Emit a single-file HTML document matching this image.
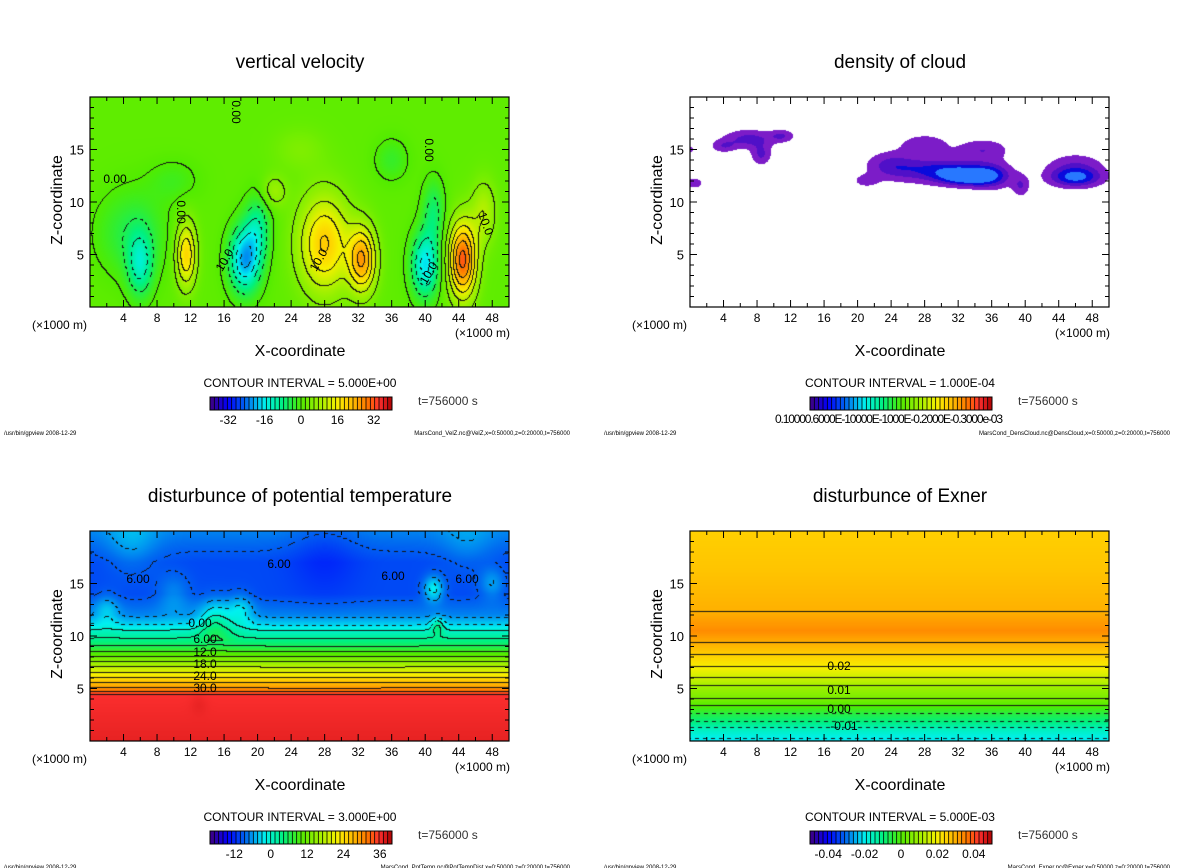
<!DOCTYPE html>
<html><head><meta charset="utf-8">
<style>
html,body{margin:0;padding:0;background:#fff;width:1200px;height:868px;overflow:hidden;position:relative;font-family:"Liberation Sans","DejaVu Sans",sans-serif;}
canvas{position:absolute;}
#ov{position:absolute;left:0;top:0;}
</style></head>
<body>
<canvas id="c0" width="419" height="210" style="left:90px;top:97px"></canvas>
<canvas id="c1" width="419" height="210" style="left:690px;top:97px"></canvas>
<canvas id="c2" width="419" height="210" style="left:90px;top:531px"></canvas>
<canvas id="c3" width="419" height="210" style="left:690px;top:531px"></canvas>
<svg id="ov" width="1200" height="868" xmlns="http://www.w3.org/2000/svg"></svg>
<script>
// ---- data ----
const xTicks = [4,8,12,16,20,24,28,32,36,40,44,48];
const zTicks = [5,10,15];
const titles = ["vertical velocity","density of cloud","disturbunce of potential temperature","disturbunce of Exner"];
const intervals = ["5.000E+00","1.000E-04","3.000E+00","5.000E-03"];
const barLabels0 = ["-32","-16","0","16","32"];
const barValues0 = [-32,-16,0,16,32];
const barLabels2 = ["-12","0","12","24","36"];
const barValues2 = [-12,0,12,24,36];
const barLabels3 = ["-0.04","-0.02","0","0.02","0.04"];
const barValues3 = [-0.04,-0.02,0,0.02,0.04];
const footers = ["MarsCond_VelZ.nc@VelZ,x=0:50000,z=0:20000,t=756000","MarsCond_DensCloud.nc@DensCloud,x=0:50000,z=0:20000,t=756000","MarsCond_PotTemp.nc@PotTempDist,x=0:50000,z=0:20000,t=756000","MarsCond_Exner.nc@Exner,x=0:50000,z=0:20000,t=756000"];

// vertical velocity blobs
const velX  = [6, 5, 11.5, 18.5, 20, 28, 32.5, 40, 41, 44.5, 22, 36, 10, 25, 47];
const velZ  = [4, 7, 5, 4.5, 7.5, 6, 4.5, 4, 9, 4.5, 11, 14, 12, 15, 9];
const velSX = [1.5, 4, 1.2, 1.8, 1.5, 3, 1.6, 1.6, 1.3, 1.6, 1.5, 2, 3, 3, 1.5];
const velSZ = [3, 4, 3, 3, 3, 4.5, 3, 3, 3, 3.5, 1.5, 2, 2, 2, 3];
const velA  = [-12, -6, 18, -22, -10, 19, 23, -18, -8, 30, 6, -4, -3, 3, 8];

// cloud blobs
const clX  = [7, 11, 4, 8.5, 0.5, 0, 24, 30, 33, 36, 28, 35, 39.5, 21, 46, 46];
const clZ  = [16, 16.3, 15.3, 14.5, 11.8, 15, 13.5, 13, 12.4, 12.5, 15.5, 15, 11.5, 12, 13, 12.3];
const clSX = [3, 1.5, 1.5, 1.2, 1, 0.6, 3, 5, 3, 2.5, 3, 3, 1, 1.5, 3.5, 3];
const clSZ = [0.9, 0.6, 0.6, 1, 0.5, 0.4, 1.3, 1.2, 0.8, 1.2, 1, 1, 1, 0.6, 1.5, 0.8];
const clA  = [1, 0.8, 0.7, 0.9, 0.8, 0.6, 0.9, 1.4, 1.7, 1.2, 0.7, 0.8, 0.8, 0.6, 1.0, 1.1];

// potential temperature profile + perturbations
const ptZ = [0, 4.4, 5, 6, 7, 8, 9, 10, 10.5, 11, 12, 14, 17, 20];
const ptV = [37, 36, 30, 24, 18, 12, 6, 2, 0, -3, -7, -10, -10, -7];
const ptPX = [15, 18, 41, 41.5, 2, 5, 48, 45, 10, 28, 13];
const ptPZ = [11.5, 12.5, 14.5, 11, 12.5, 19, 15, 19, 14, 18, 3.5];
const ptPS = [2, 1.5, 1.2, 0.8, 1.5, 3, 1.5, 3, 2, 4, 1];
const ptPA = [7, 5, 8, 6, 4, 3, 4, 2, 3, -2, 2];

// exner profile
const exZ = [0, 1.2, 1.8, 2.6, 3.3, 4, 5.2, 6, 7, 9.3, 10.5, 12.3, 16, 20];
const exV = [-0.021, -0.015, -0.01, -0.005, 0, 0.005, 0.01, 0.015, 0.02, 0.03, 0.034, 0.03, 0.027, 0.025];

// ---- colour ----
const stops = [[0,[64,0,128]],[0.1,[0,0,255]],[0.2,[0,110,240]],[0.3,[0,240,240]],[0.4,[0,240,128]],[0.5,[80,236,0]],[0.6,[160,240,0]],[0.7,[248,240,0]],[0.75,[255,208,0]],[0.8,[255,176,0]],[0.87,[255,112,0]],[0.93,[255,48,48]],[1,[170,0,0]]];
function cmap(t){t=Math.max(0,Math.min(1,t));for(let i=1;i<stops.length;i++){if(t<=stops[i][0]){const a=stops[i-1],b=stops[i];const f=(t-a[0])/(b[0]-a[0]);return [0,1,2].map(k=>Math.round(a[1][k]+(b[1][k]-a[1][k])*f));}}return stops[stops.length-1][1];}
function interp(zs,vs,z){if(z<=zs[0])return vs[0];for(let i=1;i<zs.length;i++){if(z<=zs[i]){const f=(z-zs[i-1])/(zs[i]-zs[i-1]);return vs[i-1]+(vs[i]-vs[i-1])*f;}}return vs[vs.length-1];}
function blobs(X,Z,SX,SZ,A,x,z){let s=0;for(let i=0;i<X.length;i++){const dx=(x-X[i])/SX[i],dz=(z-Z[i])/SZ[i];s+=A[i]*Math.exp(-(dx*dx+dz*dz));}return s;}

const W=419,H=210;
function xs(v){return v/50*W;} function zs(v){return H-v/20*H;}
function render(id,f,col,step,lines,dash){
  const cv=document.getElementById(id),ctx=cv.getContext('2d'),img=ctx.createImageData(W,H);
  const val=new Float32Array(W*H);
  for(let py=0;py<H;py++)for(let px=0;px<W;px++){val[py*W+px]=f((px+0.5)/W*50,(H-py-0.5)/H*20);}
  for(let py=0;py<H;py++)for(let px=0;px<W;px++){
    const i=py*W+px,v=val[i];let c=col(v);
    if(lines&&c){const L=Math.floor(v/step);let edge=false;
      if(px<W-1&&Math.floor(val[i+1]/step)!==L)edge=true;
      if(py<H-1&&Math.floor(val[i+W]/step)!==L)edge=true;
      if(edge){const neg=dash&&v<-step*0.2;if(!(neg&&((px+py)>>2)%2===0))c=[20,20,20];}}
    if(!c)c=[255,255,255];
    img.data[i*4]=c[0];img.data[i*4+1]=c[1];img.data[i*4+2]=c[2];img.data[i*4+3]=255;}
  ctx.putImageData(img,0,0);
}
render('c0',(x,z)=>1.5+blobs(velX,velZ,velSX,velSZ,velA,x,z),v=>cmap((v+40)/80),5,true,true);
render('c1',(x,z)=>blobs(clX,clZ,clSX,clSZ,clA,x,z),v=>v<0.4?null:v<0.85?[124,28,200]:v<1.25?[80,16,200]:v<1.65?[10,10,220]:[40,120,255],1,false,false);
render('c2',(x,z)=>interp(ptZ,ptV,z)+(z>9.5?blobs(ptPX,ptPZ,ptPS,ptPS,ptPA,x,z):0.3*blobs(ptPX,ptPZ,ptPS,ptPS,ptPA,x,z)),v=>cmap((v+20)/60),3,true,true);
render('c3',(x,z)=>interp(exZ,exV,z),v=>cmap((v+0.05)/0.1),0.005,true,true);

// ---- overlay ----
const svg=document.getElementById('ov');const NS='http://www.w3.org/2000/svg';
function el(tag,attrs,txt,parent){const e=document.createElementNS(NS,tag);for(const k in attrs)e.setAttribute(k,attrs[k]);if(txt!==undefined)e.textContent=txt;(parent||svg).appendChild(e);return e;}
const offs=[[0,0],[600,0],[0,434],[600,434]];
offs.forEach((o,p)=>{
  const ox=o[0],oy=o[1],L=ox+90,T=oy+97;
  const g=el('g',{});
  
  
  const fr=el('rect',{x:L,y:T,width:W,height:H,fill:'none',stroke:'#000','stroke-width':1.2},undefined,g);
  
  
  let d='';
  for(let k=2;k<50;k+=2){const x=L+xs(k),len=k%4===0?7:4;d+=`M${x} ${T+H}v${-len}M${x} ${T}v${len}`;}
  for(let k=1;k<20;k++){const y=T+zs(k),len=k%5===0?7:4;d+=`M${L} ${y}h${len}M${L+W} ${y}h${-len}`;}
  el('path',{d:d,stroke:'#000','stroke-width':1,fill:'none'},undefined,g);
  xTicks.forEach(v=>{const t=el('text',{x:L+xs(v),y:oy+322,'font-size':12,'text-anchor':'middle'},String(v),g);
    
    });
  zTicks.forEach(v=>{const t=el('text',{x:L-6,y:T+zs(v)+5,'font-size':13,'text-anchor':'end'},String(v),g);
    
    });
  el('text',{x:ox+32,y:oy+329,'font-size':12},'(×1000 m)',g);
  el('text',{x:ox+455,y:oy+337,'font-size':12},'(×1000 m)',g);
  const tt=el('text',{x:ox+300,y:oy+68,'font-size':19,'text-anchor':'middle'},titles[p],g);
  
  
  const xt=el('text',{x:ox+300,y:oy+356,'font-size':16,'text-anchor':'middle'},'X-coordinate',g);
  
  
  const yt=el('text',{x:0,y:0,'font-size':16,'text-anchor':'middle',transform:`translate(${ox+62},${oy+200}) rotate(-90)`},'Z-coordinate',g);
  
  
  el('text',{x:ox+300,y:oy+387,'font-size':12,'text-anchor':'middle'},'CONTOUR INTERVAL = '+intervals[p],g);
  el('text',{x:ox+418,y:oy+405,'font-size':12,fill:'#333'},'t=756000 s',g);
  el('text',{x:ox+4,y:oy+435,'font-size':6},'/usr/bin/gpview  2008-12-29',g);
  el('text',{x:ox+570,y:oy+435,'font-size':6,'text-anchor':'end'},footers[p],g);
  // colorbar
  const cb=el('g',{},undefined,g);
  
  
  const bx=ox+210,by=oy+397,bw=182,bh=13,n=42;
  for(let i=0;i<n;i++){const c=cmap((i+0.5)/n);el('rect',{x:bx+i*bw/n,y:by,width:bw/n+0.3,height:bh,fill:`rgb(${c})`},undefined,cb);
    el('line',{x1:bx+i*bw/n,x2:bx+i*bw/n,y1:by,y2:by+bh,stroke:'#000','stroke-width':0.8},undefined,cb);}
  el('rect',{x:bx,y:by,width:bw,height:bh,fill:'none',stroke:'#000','stroke-width':1},undefined,cb);
  let labs=null,vals=null,lo=0,hi=1;
  if(p===0){labs=barLabels0;vals=barValues0;lo=-40;hi=40;}
  if(p===2){labs=barLabels2;vals=barValues2;lo=-20;hi=40;}
  if(p===3){labs=barLabels3;vals=barValues3;lo=-0.05;hi=0.05;}
  if(labs){labs.forEach((s,i)=>{el('text',{x:bx+(vals[i]-lo)/(hi-lo)*bw,y:oy+424,'font-size':12,'text-anchor':'middle'},s,cb);});}
  else{el('text',{x:ox+175,y:oy+423,'font-size':12,'textLength':228},'0.10000.6000E-10000E-1000E-0.2000E-0.3000e-03',cb);}
});
// contour labels
const cl=[[115,183,'0.00'],[232,112,'0.00',90],[425,150,'0.00',90],[322,262,'10.0',-60],[228,262,'10.0',-60],[432,275,'10.0',-60],[482,225,'10.0',70],[177,212,'0.00',90],
[138,583,'6.00'],[279,568,'6.00'],[393,580,'6.00'],[467,583,'6.00'],[200,627,'0.00'],[205,643,'6.00'],[205,656,'12.0'],[205,668,'18.0'],[205,680,'24.0'],[205,692,'30.0'],
[839,670,'0.02'],[839,694,'0.01'],[839,713,'0.00'],[844,730,'-0.01']];
cl.forEach(c=>{const t=el('text',{x:c[0],y:c[1],'font-size':12,'text-anchor':'middle',transform:c[3]?`rotate(${c[3]} ${c[0]} ${c[1]})`:''},c[2]);
  
  });
</script>
</body></html>
